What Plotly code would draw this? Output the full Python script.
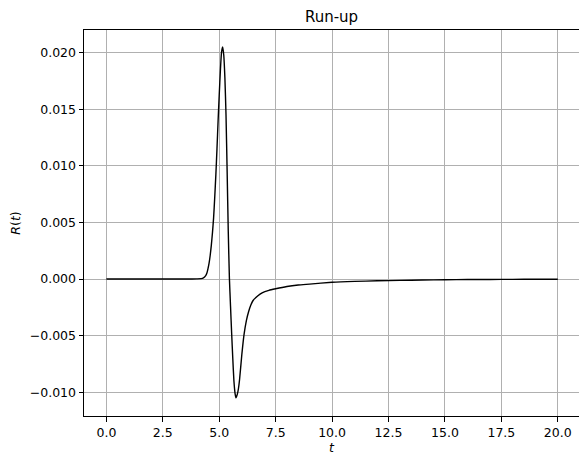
import plotly.graph_objects as go

# Values
t_vals = [0.0, 1.0, 2.0, 3.0, 3.6, 4.0, 4.2, 4.3, 4.4, 4.45, 4.5, 4.55, 4.6, 4.65,
          4.7, 4.75, 4.8, 4.85, 4.9, 4.95, 5.0, 5.05, 5.1, 5.15, 5.2, 5.25, 5.3,
          5.35, 5.4, 5.45, 5.5, 5.55, 5.6, 5.65, 5.7, 5.74, 5.8, 5.85, 5.9, 6.0,
          6.1, 6.2, 6.3, 6.4, 6.5, 6.7, 6.9, 7.2, 7.5, 8.0, 8.5, 9.0, 10.0, 11.0,
          12.0, 13.0, 14.0, 15.0, 16.0, 17.0, 18.0, 19.0, 20.0]
r_vals = [0.0, 0.0, 0.0, 0.0, 0.0, 0.00001, 0.00003, 0.0001, 0.0003, 0.0005, 0.0009,
          0.0014, 0.0021, 0.0030, 0.0041, 0.0054, 0.0072, 0.0092, 0.0115, 0.0140,
          0.0163, 0.0184, 0.0200, 0.0205, 0.0198, 0.0178, 0.0145, 0.0095, 0.0042,
          0.0001, -0.0024, -0.0048, -0.0070, -0.0090, -0.0101, -0.0105, -0.0102,
          -0.0097, -0.0089, -0.0067, -0.0049, -0.0037, -0.0029, -0.0023, -0.0019,
          -0.0015, -0.00122, -0.00100, -0.00086, -0.00066, -0.00053, -0.00045,
          -0.00029, -0.00021, -0.00016, -0.00012, -0.00009, -0.00007, -0.00005,
          -0.00004, -0.00003, -0.00002, -0.00002]

x_ticks = [0.0, 2.5, 5.0, 7.5, 10.0, 12.5, 15.0, 17.5, 20.0]
y_ticks = [-0.010, -0.005, 0.000, 0.005, 0.010, 0.015, 0.020]

FONT = "DejaVu Sans"

fig = go.Figure()
fig.add_trace(go.Scatter(x=t_vals, y=r_vals, mode="lines",
                         line=dict(color="black", width=1.4, shape="spline", smoothing=0.5),
                         showlegend=False, hoverinfo="skip"))

axis_common = dict(showgrid=True, gridcolor="#b0b0b0", gridwidth=1,
                   zeroline=False, showline=True, linecolor="black", linewidth=1,
                   ticks="outside", ticklen=4.5, tickwidth=1, tickcolor="black",
                   tickfont=dict(family=FONT, size=12.5, color="black"))

fig.update_layout(
    width=579, height=455,
    margin=dict(l=84, r=0, t=30, b=39),
    paper_bgcolor="white", plot_bgcolor="white",
    title=dict(text="Run-up", x=(84 + 579) / 2 / 579, xanchor="center",
               y=1 - 17 / 455, yanchor="middle",
               font=dict(family=FONT, size=15, color="black")),
    xaxis=dict(range=[-0.992, 20.94], tickvals=x_ticks, tickformat=".1f",
               mirror=True,
               title=dict(text="<i>t</i>", font=dict(family=FONT, size=12.5, color="black"),
                          standoff=2),
               **axis_common),
    yaxis=dict(range=[-0.012108, 0.022006], tickvals=y_ticks, tickformat=".3f",
               title=dict(text="<i>R</i>(<i>t</i>)", font=dict(family=FONT, size=12.5, color="black"),
                          standoff=6),
               **axis_common),
)

fig.write_html("out.html", config={"displayModeBar": False},
               post_script="document.body.style.margin='0px';document.body.style.overflow='hidden';")
